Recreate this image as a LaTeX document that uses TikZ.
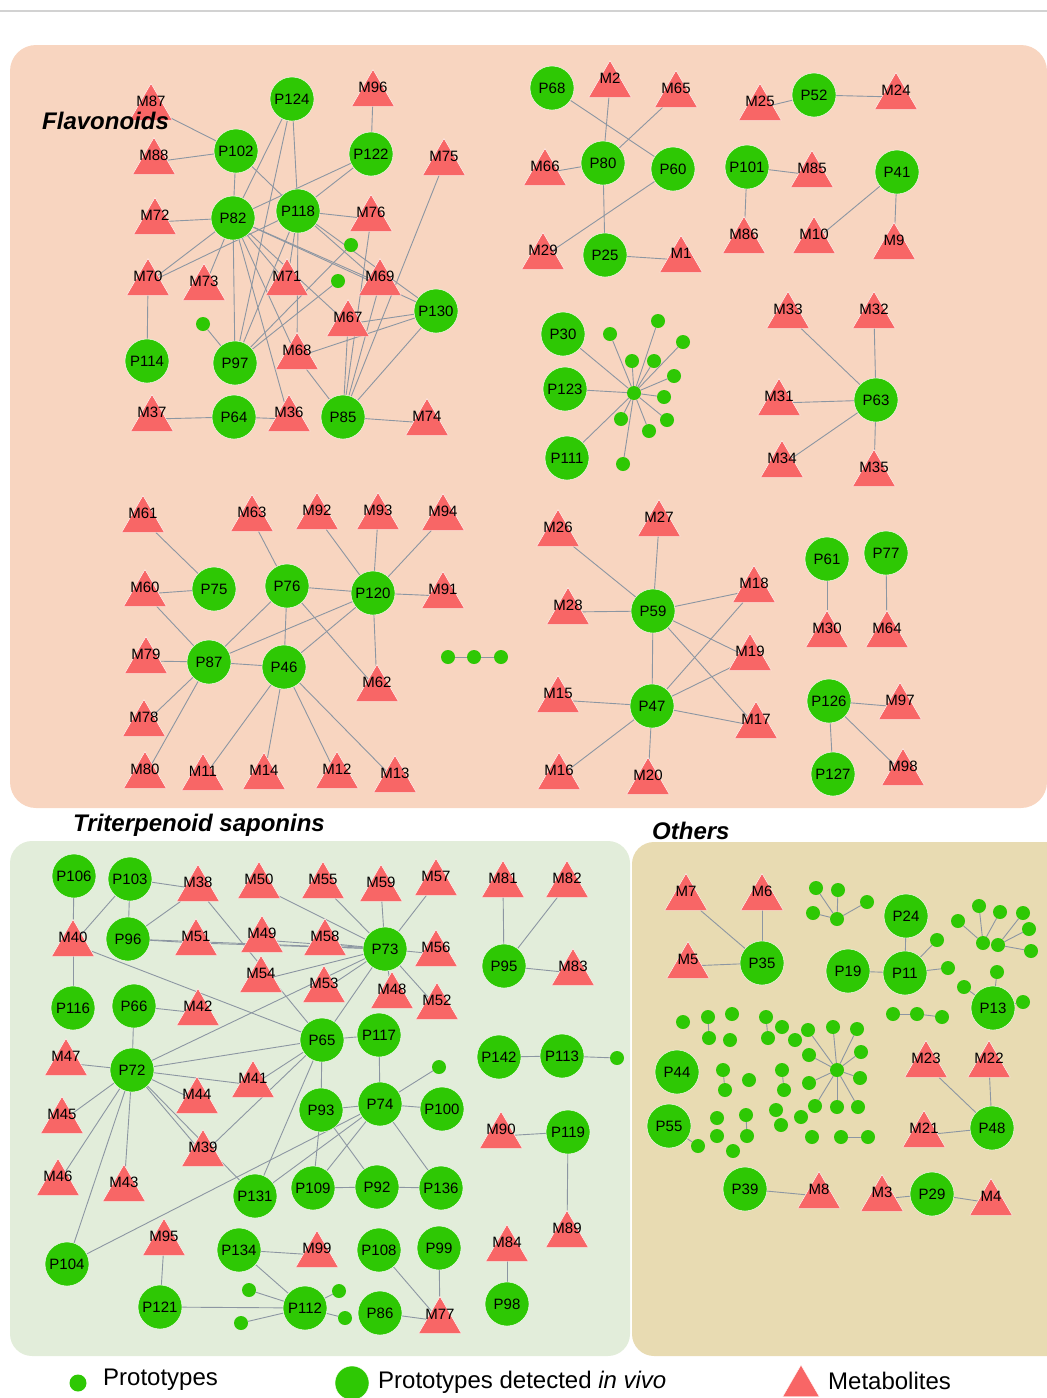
\documentclass[tikz,border=0pt]{standalone}
\usepackage{fontspec}
\setmainfont{Liberation Sans}
\usetikzlibrary{shapes.geometric}
\definecolor{flavbg}{RGB}{248,213,192}
\definecolor{tritbg}{RGB}{226,237,218}
\definecolor{othbg}{RGB}{232,219,178}
\definecolor{protogreen}{RGB}{46,200,4}
\definecolor{metred}{RGB}{248,102,102}
\definecolor{linkgray}{RGB}{140,150,162}
\pgfdeclarelayer{panels}
\pgfdeclarelayer{links}
\pgfsetlayers{panels,links,main}
\tikzset{
  proto/.style={circle, fill=protogreen, draw=white, line width=0.4pt, minimum size=44pt, inner sep=0pt},
  pdot/.style={circle, fill=protogreen, minimum size=14pt, inner sep=0pt},
  metab/.style={regular polygon, regular polygon sides=3, fill=metred, draw=white, line width=0.4pt, minimum size=49pt, inner sep=0pt},
  mtext/.style={inner sep=0pt},
  link/.style={draw=linkgray, line width=0.9pt},
  grouptitle/.style={font=\fontsize{24}{28}\selectfont\bfseries\itshape, anchor=west, inner sep=0pt},
  legtext/.style={font=\fontsize{24}{28}\selectfont, anchor=west, inner sep=0pt}
}
% metabolite: triangle + its name
\newcommand{\met}[3]{\node[metab] (#1) at ([yshift=-7pt]#2,#3) {}; \node[mtext] (#1-t) at (#2,#3) {#1};}
\begin{document}
\begin{tikzpicture}[x=1pt, y=-1pt, font=\fontsize{15}{18}\selectfont]
\useasboundingbox (0,0) rectangle (1047,1398);
\draw[gray!35, line width=1.2pt] (0,11) -- (1047,11);
\begin{pgfonlayer}{panels}
  \fill[flavbg, rounded corners=26pt] (10,45) rectangle (1047,808);
  \fill[tritbg, rounded corners=22pt] (10,841) rectangle (630,1356);
  \fill[othbg, rounded corners=22pt] (632,842) rectangle (1070,1356);
\end{pgfonlayer}

% prototypes detected in vivo
\foreach \n/\x/\y in {P124/292/99, P102/236/151, P122/371/154, P82/233/218, P118/298/211, P130/436/311, P114/147/361, P97/235/363, P64/234/417, P85/343/417,
  P68/552/88, P52/814/95, P80/603/163, P60/673/169, P101/747/167, P41/897/172, P25/605/255, P30/563/334, P123/565/389, P111/567/458, P63/876/400,
  P75/214/589, P76/287/586, P120/373/593, P87/209/662, P46/284/667,
  P61/827/559, P77/886/553, P59/653/611, P47/652/706, P126/829/701, P127/833/774,
  P106/74/876, P103/130/879, P96/128/939, P73/385/949, P116/73/1008, P66/134/1006, P65/322/1040, P117/379/1035, P72/132/1070, P93/321/1110, P74/380/1104, P100/442/1109,
  P131/255/1196, P109/313/1188, P92/377/1187, P136/441/1188, P134/239/1250, P108/379/1250, P99/439/1248, P104/67/1264, P121/160/1307, P112/305/1308, P86/380/1313, P98/507/1304,
  P95/504/966, P142/499/1057, P113/562/1056, P119/568/1132,
  P35/762/963, P24/906/916, P19/848/971, P11/905/973, P13/993/1008, P44/677/1072, P55/669/1126, P48/992/1128, P39/745/1189, P29/932/1194}
  \node[proto] (\n) at (\x,\y) {\n};

% metabolites
\foreach \n/\x/\y in {M87/151/101, M96/373/87, M88/154/155, M75/444/156, M72/155/215, M76/371/212, M70/148/276, M73/204/281, M71/287/276, M69/380/276, M67/348/317, M68/297/350, M37/152/412, M36/289/412, M74/427/416,
  M2/610/78, M65/676/88, M25/760/101, M24/896/90, M66/545/166, M85/812/168, M86/744/234, M10/814/234, M9/894/240, M29/543/250, M1/681/253, M33/788/309, M32/874/309, M31/779/396, M34/782/458, M35/874/467,
  M61/143/513, M63/252/512, M92/317/510, M93/378/510, M94/443/511, M60/145/587, M91/443/589, M79/146/654, M62/377/682, M78/144/717, M80/145/769, M11/203/771, M14/264/770, M12/337/769, M13/395/773,
  M26/558/527, M27/659/517, M18/754/583, M28/568/605, M30/827/628, M64/887/628, M19/750/651, M15/558/693, M17/756/719, M97/900/700, M16/559/770, M20/648/775, M98/903/766,
  M38/198/882, M50/259/879, M55/323/879, M59/381/882, M57/436/876, M40/73/937, M51/196/936, M49/262/933, M58/325/936, M56/436/947, M54/261/973, M53/324/983, M48/392/989, M52/437/1000,
  M42/198/1006, M47/66/1056, M41/253/1078, M44/197/1094, M45/62/1114, M39/203/1147, M46/58/1176, M43/124/1182, M95/164/1236, M99/317/1248, M84/507/1242, M89/567/1228, M77/440/1314,
  M81/503/878, M82/567/878, M83/573/966, M90/501/1129,
  M7/686/891, M6/762/891, M5/688/959, M23/926/1058, M22/989/1058, M21/924/1128, M8/819/1189, M3/882/1192, M4/991/1196}
  {\met{\n}{\x}{\y}}

% prototypes (small dots)
\foreach \n/\x/\y in {fd1/351/245, fd2/338/281, fd3/203/324,
  fh/634/393, fs1/610/334, fs2/658/321, fs3/683/342, fs4/632/361, fs5/654/361, fs6/674/376, fs7/664/397, fs8/667/420, fs9/649/431, fs10/621/419, fs11/623/464,
  fc1/448/657, fc2/474/657, fc3/501/657,
  td1/439/1067, td2/249/1290, td3/339/1291, td4/241/1323, td5/345/1318, td6/617/1058,
  oa0/837/919, oa1/816/888, oa2/838/890, oa3/867/902, oa4/813/913,
  ob1/958/921, ob2/979/906, ob3/1000/912, obh1/983/943, obh2/998/945, ob4/1023/913, ob5/1029/929, ob6/1031/951,
  op1/937/940, op2/948/968, oq1/997/972, oq2/964/987, oq3/1023/1002,
  oc1/893/1014, oc2/917/1014, oc3/942/1017,
  ox1/683/1022, ox2/708/1017, ox3/709/1038, ox4/732/1014, ox5/730/1040, ox6/766/1017, ox7/768/1038, ox8/782/1027, ox9/795/1040,
  os0/837/1070, os1/808/1030, os2/833/1027, os3/857/1029, os4/861/1052, os5/809/1055, os6/809/1083, os7/860/1078, os8/815/1106, os9/837/1107, os10/858/1107,
  oy1/723/1070, oy2/725/1090, oy3/749/1080, oy4/782/1070, oy5/784/1090,
  oz1/698/1146, oz2/717/1118, oz3/717/1136, oz4/746/1115, oz5/747/1136, oz6/733/1151, oz7/776/1110, oz8/781/1125, oz9/801/1117, oz10/812/1137, oz11/841/1137, oz12/868/1137}
  \node[pdot] (\n) at (\x,\y) {};

\begin{pgfonlayer}{links}
  % Flavonoids
  \foreach \a/\b in {M87/P102, M88/P102, P102/P82, P102/P118, P124/P82, P124/P97, P124/P118, M96/P122, P122/P82, P122/P118, P82/M72, P118/M76,
    M70/P82, M70/P118, M70/P114, P82/M73, P82/P97, P82/M71, P82/M69, P82/P130, P82/M67, P82/M68, P82/M36, P118/P97, P118/M71, P118/M68, P118/M69, P118/P130,
    fd1/P97, fd2/P97, fd3/P97, M37/P64, P64/M36, P85/M74, P85/M68, P85/M67, P85/M69, P85/M76, P85/M75, P85/P130, P130/M67, P130/M68,
    P68/P60, M2/P80, M65/P80, M66/P80, P80/P25, P60/M29, P25/M1, M25/P52, P52/M24, P101/M85, P101/M86, P41/M10, P41/M9,
    fh/P30, fh/P123, fh/P111, M33/P63, M32/P63, M31/P63, M34/P63, M35/P63,
    M61/P75, M60/P75, M63/P76, M92/P120, M93/P120, M94/P120, P76/P120, P120/M91, P120/M62, P76/P87, P76/P46, P76/M62, P120/P87, P120/P46,
    M60/P87, M79/P87, P87/P46, P87/M78, P87/M80, P46/M11, P46/M14, P46/M12, P46/M13, fc1/fc2, fc2/fc3,
    M26/P59, M27/P59, M28/P59, P59/M18, P59/M19, P59/M17, P59/P47, P47/M18, P47/M19, P47/M17, P47/M15, P47/M16, P47/M20,
    P61/M30, P77/M64, P126/M97, P126/P127, P126/M98}
    \draw[link] (\a) -- (\b);
  \foreach \i in {1,...,11} \draw[link] (fh) -- (fs\i);
  % Triterpenoid saponins
  \foreach \a/\b in {P106/M40, P103/M40, P103/P96, P103/M38, M38/P96, M38/P65, M40/P116, M40/P65, P96/M51, P96/P73, M51/P73, M49/P73, M58/P73,
    M50/P73, M55/P73, M59/P73, M57/P73, M54/P73, M53/P73, P73/M56, P73/M48, P73/M52, P73/P65, P66/M42, P66/P72, P72/P73,
    P72/M47, P72/M45, P72/M46, P72/M43, P72/P104, P72/M44, P72/M41, P72/P65, P72/M39, P72/P131, M41/P65, M39/P65,
    P65/P117, P65/P93, P65/P131, P117/P74, P74/td1, P74/P93, P74/P100, P74/P109, P74/P136, P74/P131, P74/P104,
    P93/P109, P93/P92, P109/P92, P92/P136, M95/P121, P121/P112, P134/M99, P134/P112, P112/td2, P112/td3, P112/td4, P112/td5,
    P108/M77, P99/M77, P86/M77, M84/P98, M81/P95, M82/P95, P95/M83, P142/P113, P113/td6, M90/P119, P119/M89}
    \draw[link] (\a) -- (\b);
  % Others
  \foreach \a/\b in {P35/M7, P35/M6, P35/M5, oa0/oa1, oa0/oa2, oa0/oa3, oa0/oa4, P24/P11, P19/P11, P11/op1, P11/op2,
    obh1/ob1, obh1/ob2, obh1/ob3, obh2/ob4, obh2/ob5, obh2/ob6, P13/oq1, P13/oq2, P13/oq3, oc1/oc2, oc2/oc3,
    ox2/ox3, ox6/ox7, oy1/oy2, oy4/oy5, P55/oz1, oz4/oz5, oz11/oz12, M23/P48, M22/P48, M21/P48, P39/M8, M3/P29, P29/M4}
    \draw[link] (\a) -- (\b);
  \foreach \i in {1,...,10} \draw[link] (os0) -- (os\i);
\end{pgfonlayer}

% group titles (over the nodes)
\node[grouptitle] (flavtitle) at (42,121) {Flavonoids};
\node[grouptitle] (trittitle) at (73,825) {Triterpenoid saponins};
\node[grouptitle] (othtitle) at (652,831) {Others};

% legend
\node[pdot, minimum size=17pt] (legdot) at (78,1383) {};
\node[legtext] (legdottext) at (103,1380) {Prototypes};
\node[proto, minimum size=34pt] (legproto) at (352,1383) {};
\node[legtext] (legprototext) at (378,1382) {Prototypes detected \textit{in vivo}};
\node[metab, minimum size=42pt] (legmet) at (801,1386) {};
\node[legtext] (legmettext) at (828,1381) {Metabolites};
\end{tikzpicture}
\end{document}
